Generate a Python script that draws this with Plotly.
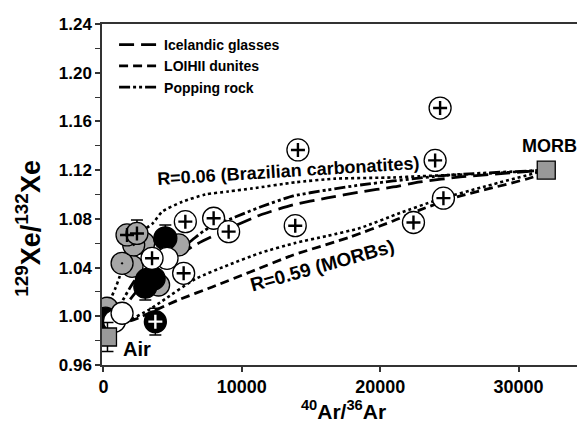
import plotly.graph_objects as go

FONT = "Liberation Sans, Arial, sans-serif"

# ---- model / trend curves ----
r006_x = [296, 505, 866, 1155, 1590, 2670, 3540, 4260, 5700, 7370, 9030, 10760, 13860, 16750, 20940, 22890, 27220, 32000]
r006_y = [0.983, 1.013, 1.023, 1.032, 1.052, 1.069, 1.076, 1.086, 1.094, 1.100, 1.1025, 1.105, 1.110, 1.113, 1.114, 1.115, 1.117, 1.120]

r059_x = [296, 1588, 3393, 4260, 6642, 9025, 11335, 13862, 16173, 18555, 21443, 24115, 27436, 32000]
r059_y = [0.983, 0.9945, 1.006, 1.0126, 1.0306, 1.0421, 1.052, 1.0602, 1.066, 1.0725, 1.0849, 1.0955, 1.1062, 1.120]

ice_x = [296, 1588, 2671, 4476, 6642, 9169, 11335, 13718, 16173, 18555, 20938, 22887, 25775, 32000]
ice_y = [0.983, 1.0085, 1.0240, 1.0421, 1.0586, 1.0725, 1.0832, 1.0915, 1.0972, 1.1021, 1.1062, 1.1103, 1.1144, 1.120]

loi_x = [296, 1227, 2527, 5415, 7870, 10613, 13718, 17833, 20938, 22887, 25559, 31046, 32000]
loi_y = [0.983, 0.9929, 0.9986, 1.0134, 1.0241, 1.0364, 1.0503, 1.0651, 1.0783, 1.0874, 1.098, 1.1144, 1.120]

pop_x = [296, 1227, 2310, 4115, 6137, 7364, 9530, 11335, 13718, 16173, 18555, 20938, 25053, 32000]
pop_y = [0.983, 1.0093, 1.0298, 1.0462, 1.0602, 1.0709, 1.0815, 1.0897, 1.0988, 1.1037, 1.1078, 1.1111, 1.1160, 1.120]

# ---- samples ----
gray_x = [264, 3990, 2070, 1350, 2910, 5440, 2190, 1708, 2426]
gray_y = [1.0066, 1.0257, 1.041, 1.0435, 1.060, 1.0586, 1.0586, 1.0668, 1.068]
gray_err = [0, 0, 0, 0, 0, 0, 0, 0, 0.011]
gray_sym = ["circle", "circle", "circle", "circle-dot", "circle", "circle", "circle-dot", "circle", "circle"]
grayplus_x = [1708, 2426]
grayplus_y = [1.0668, 1.068]

black_x = [150, 3030, 3150, 3630, 4477]
black_y = [0.998, 1.0243, 1.0298, 1.031, 1.064]
black_err = [0, 0.011, 0, 0, 0.011]

blackplus_x = [3755]
blackplus_y = [0.9956]
blackplus_err = [0.011]

white_x = [800, 1350, 4600]
white_y = [0.996, 1.0025, 1.0476]

wplus_x = [3516, 5800, 5921, 7966, 9050, 13863, 14057, 22405, 24570, 23970, 24330]
wplus_y = [1.0476, 1.0353, 1.0777, 1.0805, 1.0695, 1.0744, 1.1366, 1.077, 1.097, 1.128, 1.171]

end_x = [296, 32000]
end_y = [0.983, 1.120]
end_err = [0.012, 0]
end_labels = ["Air", "MORB"]

y_ticks = [0.96, 1.00, 1.04, 1.08, 1.12, 1.16, 1.20, 1.24]
x_ticks = [0, 10000, 20000, 30000]

fig = go.Figure()

def curve(x, y, dash, name=None, show=False, width=2.6):
    fig.add_trace(go.Scatter(x=x, y=y, mode="lines", name=name, showlegend=show,
                             line=dict(color="black", width=width, dash=dash, shape="spline", smoothing=0.6),
                             hoverinfo="skip"))

curve(r006_x, r006_y, "3px,3px", width=2.6)
curve(r059_x, r059_y, "3px,3px", width=2.6)
curve(ice_x, ice_y, "15px,7px", name="Icelandic glasses", show=True, width=2.8)
curve(loi_x, loi_y, "9px,5px", name="LOIHII dunites", show=True, width=2.8)
curve(pop_x, pop_y, "11px,3px,3px,3px,3px,3px", name="Popping rock", show=True, width=2.8)

MS = 22
OUT = dict(color="black", width=1.3)

fig.add_trace(go.Scatter(x=gray_x, y=gray_y, mode="markers", showlegend=False,
                         error_y=dict(type="data", array=gray_err, color="black", thickness=1.5, width=6),
                         marker=dict(size=MS, color="#a6a6a6", symbol=gray_sym, line=OUT)))
fig.add_trace(go.Scatter(x=grayplus_x, y=grayplus_y, mode="markers", showlegend=False,
                         marker=dict(size=10, color="black", symbol="cross-thin", line=dict(color="black", width=2.4))))
fig.add_trace(go.Scatter(x=black_x, y=black_y, mode="markers", showlegend=False,
                         error_y=dict(type="data", array=black_err, color="black", thickness=1.5, width=6),
                         marker=dict(size=MS + 1, color="black", line=OUT)))
fig.add_trace(go.Scatter(x=white_x, y=white_y, mode="markers", showlegend=False,
                         marker=dict(size=MS, color="white", line=OUT)))
fig.add_trace(go.Scatter(x=blackplus_x, y=blackplus_y, mode="markers", showlegend=False,
                         error_y=dict(type="data", array=blackplus_err, color="black", thickness=1.5, width=6),
                         marker=dict(size=MS, color="black", line=OUT)))
fig.add_trace(go.Scatter(x=blackplus_x, y=blackplus_y, mode="markers", showlegend=False,
                         marker=dict(size=10, color="white", symbol="cross-thin", line=dict(color="white", width=2.4))))
fig.add_trace(go.Scatter(x=wplus_x, y=wplus_y, mode="markers", showlegend=False,
                         marker=dict(size=MS, color="white", line=OUT)))
fig.add_trace(go.Scatter(x=wplus_x, y=wplus_y, mode="markers", showlegend=False,
                         marker=dict(size=10, color="black", symbol="cross-thin", line=dict(color="black", width=2.4))))
fig.add_trace(go.Scatter(x=end_x, y=end_y, mode="markers", showlegend=False,
                         error_y=dict(type="data", array=end_err, color="black", thickness=1.5, width=6),
                         marker=dict(size=18, color="#999999", symbol="square", line=dict(color="black", width=1.3))))

bold = dict(family=FONT, color="black", weight="bold")

fig.add_annotation(x=end_x[0] + 2160, y=end_y[0] - 0.010, text=end_labels[0], showarrow=False,
                   font=dict(size=20, **bold))
fig.add_annotation(x=end_x[1] + 270, y=end_y[1] + 0.020, text=end_labels[1], showarrow=False,
                   font=dict(size=18, **bold))
fig.add_annotation(x=13360, y=1.1195, text="R=0.06 (Brazilian carbonatites)", showarrow=False,
                   textangle=-3.5, font=dict(size=18, **bold))
fig.add_annotation(x=15812, y=1.0421, text="R=0.59 (MORBs)", showarrow=False,
                   textangle=-15.5, font=dict(size=19, **bold))
# y-axis title placed as in the reference (left of the tick labels, slightly below centre)
fig.add_annotation(xref="paper", yref="paper", x=-0.153, y=0.40, xanchor="center", yanchor="middle",
                   text="<sup>129</sup>Xe/<sup>132</sup>Xe", textangle=-90, showarrow=False,
                   font=dict(size=27, **bold))

# the page body adds an 8px offset, so the figure is sized/margined to compensate
fig.update_layout(
    width=577, height=423,
    margin=dict(l=94, r=0, t=16, b=66),
    paper_bgcolor="white", plot_bgcolor="white",
    showlegend=True,
    legend=dict(x=0.025, y=0.985, xanchor="left", yanchor="top", bgcolor="rgba(0,0,0,0)",
                font=dict(size=14, **bold), tracegroupgap=0, itemwidth=40),
    xaxis=dict(range=[-100, 34800], tickvals=x_ticks, ticktext=[str(v) for v in x_ticks],
               showgrid=False, zeroline=False, showline=True, linecolor="#333", linewidth=1.5,
               mirror=True, ticks="outside", ticklen=5, tickcolor="#333", tickwidth=1.5,
               tickfont=dict(size=18, **bold),
               title=dict(text="<sup>40</sup>Ar/<sup>36</sup>Ar", font=dict(size=21, **bold), standoff=6)),
    yaxis=dict(range=[0.96, 1.24], tickvals=y_ticks, ticktext=["%.2f" % v for v in y_ticks],
               showgrid=False, zeroline=False, showline=True, linecolor="#333", linewidth=1.5,
               ticks="outside", ticklen=5, tickcolor="#333", tickwidth=1.5,
               minor=dict(dtick=0.02, ticks="outside", ticklen=5, tickcolor="#333", tickwidth=1.2),
               tickfont=dict(size=17, **bold)),
)

fig.write_html("out.html")
